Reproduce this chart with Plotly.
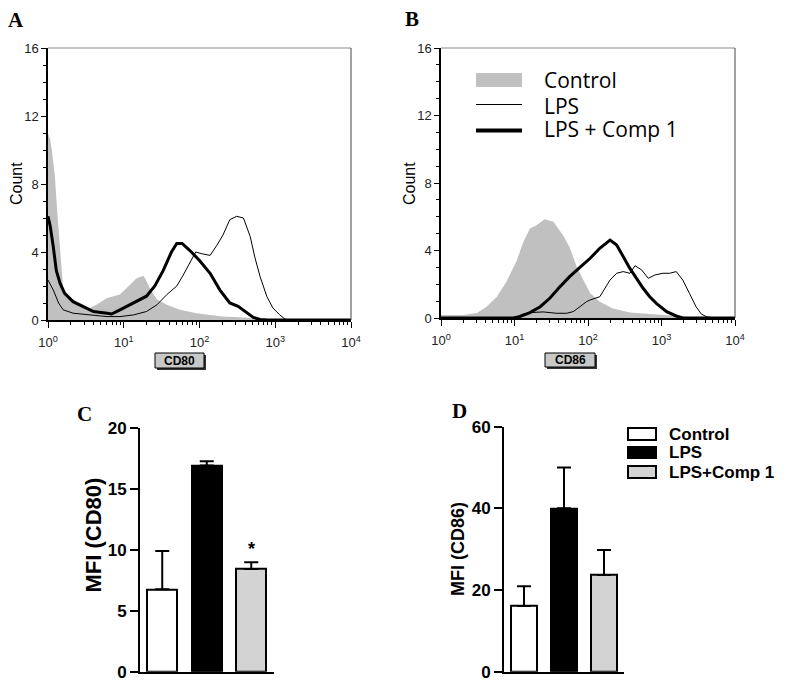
import plotly.graph_objects as go

W, H = 786, 686

# ---------------- DATA ----------------
# Panel A (CD80 histograms): log10 fluorescence positions and counts
a_ctrl_log = [0.0, 0.03, 0.05, 0.09, 0.12, 0.16, 0.2, 0.25, 0.33, 0.47, 0.55, 0.64, 0.78, 0.95, 1.06, 1.17, 1.26, 1.3, 1.35, 1.44, 1.57, 1.74, 1.96, 2.17, 2.3, 2.6, 2.75, 2.85, 4.0]
a_ctrl_cnt = [11.0, 10.6, 10.0, 8.5, 6.5, 3.9, 1.8, 1.3, 1.2, 0.9, 0.7, 0.9, 1.3, 1.5, 2.0, 2.45, 2.6, 2.3, 1.8, 1.2, 0.9, 0.6, 0.4, 0.25, 0.2, 0.15, 0.05, 0.0, 0.0]

a_lps_log = [0.0, 0.07, 0.14, 0.2, 0.33, 0.55, 0.78, 0.95, 1.13, 1.3, 1.44, 1.57, 1.7, 1.78, 1.87, 1.95, 2.03, 2.14, 2.23, 2.31, 2.4, 2.49, 2.58, 2.67, 2.73, 2.8, 2.89, 2.97, 3.06, 3.13, 3.2, 4.0]
a_lps_cnt = [2.35, 1.76, 1.0, 0.6, 0.4, 0.3, 0.2, 0.2, 0.3, 0.5, 0.9, 1.5, 2.0, 2.6, 3.3, 4.0, 3.9, 3.8, 4.4, 5.0, 5.9, 6.1, 6.0, 4.9, 3.7, 2.55, 1.37, 0.7, 0.3, 0.05, 0.0, 0.0]

a_comp_log = [0.0, 0.03, 0.07, 0.11, 0.16, 0.22, 0.33, 0.47, 0.6, 0.78, 0.84, 0.95, 1.13, 1.3, 1.41, 1.52, 1.63, 1.7, 1.77, 1.87, 2.0, 2.14, 2.27, 2.4, 2.51, 2.6, 2.71, 2.8, 2.9, 4.0]
a_comp_cnt = [6.1, 5.5, 4.3, 2.9, 2.15, 1.57, 1.08, 0.8, 0.5, 0.4, 0.35, 0.6, 1.0, 1.4, 2.0, 2.9, 4.0, 4.5, 4.5, 4.1, 3.5, 2.75, 1.76, 1.0, 0.8, 0.5, 0.15, 0.03, 0.0, 0.0]

# Panel B (CD86 histograms)
b_ctrl_log = [0.0, 0.3, 0.49, 0.62, 0.76, 0.89, 1.03, 1.12, 1.21, 1.3, 1.41, 1.53, 1.66, 1.75, 1.85, 1.94, 2.03, 2.16, 2.34, 2.57, 2.8, 3.02, 3.25, 3.48, 3.7, 4.0]
b_ctrl_cnt = [0.18, 0.18, 0.3, 0.67, 1.26, 2.15, 3.4, 4.5, 5.3, 5.5, 5.85, 5.7, 4.9, 4.2, 3.0, 2.25, 1.46, 0.97, 0.57, 0.32, 0.24, 0.16, 0.08, 0.03, 0.0, 0.0]

b_lps_log = [0.0, 1.0, 1.12, 1.21, 1.39, 1.57, 1.71, 1.8, 1.89, 1.98, 2.03, 2.16, 2.3, 2.39, 2.48, 2.57, 2.64, 2.73, 2.82, 2.91, 3.02, 3.11, 3.2, 3.29, 3.38, 3.47, 3.54, 3.61, 3.7, 4.0]
b_lps_cnt = [0.0, 0.0, 0.24, 0.32, 0.36, 0.28, 0.28, 0.38, 0.67, 0.97, 1.07, 1.26, 2.25, 2.65, 2.75, 2.65, 3.1, 2.85, 2.35, 2.55, 2.65, 2.65, 2.75, 2.25, 1.46, 0.67, 0.24, 0.08, 0.0, 0.0]

b_comp_log = [0.0, 0.98, 1.07, 1.21, 1.35, 1.48, 1.62, 1.75, 1.89, 2.03, 2.16, 2.3, 2.39, 2.48, 2.57, 2.66, 2.75, 2.84, 2.93, 3.07, 3.2, 3.29, 4.0]
b_comp_cnt = [0.0, 0.0, 0.08, 0.32, 0.67, 1.17, 1.86, 2.45, 3.0, 3.54, 4.13, 4.62, 4.33, 3.64, 2.94, 2.35, 1.76, 1.26, 0.87, 0.38, 0.12, 0.0, 0.0]

hist_xticks = [1, 10, 100, 1000, 10000]
hist_xticktext = ["10<sup>0</sup>", "10<sup>1</sup>", "10<sup>2</sup>", "10<sup>3</sup>", "10<sup>4</sup>"]
hist_yticks = [0, 4, 8, 12, 16]

# Panels C / D (MFI bar charts)
groups = ["Control", "LPS", "LPS+Comp 1"]
cd80_mfi = [6.75, 16.9, 8.42]
cd80_err = [3.15, 0.35, 0.55]
cd86_mfi = [16.1, 40.0, 23.7]
cd86_err = [4.8, 10.0, 6.1]
bar_colors = ["#ffffff", "#000000", "#d3d3d3"]

# ---------------- HELPERS ----------------
def fx(p):
    return p / W

def fy(p):
    return 1 - p / H

fig = go.Figure()

GRAY = "#c0c0c0"

def add_hist(ctrl_l, ctrl_c, lps_l, lps_c, comp_l, comp_c, xa, ya):
    fig.add_trace(go.Scatter(x=[10 ** v for v in ctrl_l], y=ctrl_c, mode="lines",
                             fill="tozeroy", fillcolor=GRAY, line=dict(width=0, color=GRAY),
                             xaxis=xa, yaxis=ya, showlegend=False, hoverinfo="skip"))
    fig.add_trace(go.Scatter(x=[10 ** v for v in lps_l], y=lps_c, mode="lines",
                             line=dict(width=1, color="black"),
                             xaxis=xa, yaxis=ya, showlegend=False, hoverinfo="skip"))
    fig.add_trace(go.Scatter(x=[10 ** v for v in comp_l], y=comp_c, mode="lines",
                             line=dict(width=3, color="black"),
                             xaxis=xa, yaxis=ya, showlegend=False, hoverinfo="skip"))

add_hist(a_ctrl_log, a_ctrl_cnt, a_lps_log, a_lps_cnt, a_comp_log, a_comp_cnt, "x", "y")
add_hist(b_ctrl_log, b_ctrl_cnt, b_lps_log, b_lps_cnt, b_comp_log, b_comp_cnt, "x2", "y2")

def add_bars(vals, errs, xa, ya, width):
    fig.add_trace(go.Bar(x=[0, 1, 2], y=vals, width=width,
                         marker=dict(color=bar_colors, line=dict(color="black", width=2)),
                         error_y=dict(type="data", symmetric=False, array=errs,
                                      arrayminus=[0, 0, 0], color="black",
                                      thickness=2, width=7),
                         xaxis=xa, yaxis=ya, showlegend=False, hoverinfo="skip"))

add_bars(cd80_mfi, cd80_err, "x3", "y3", 0.68)
add_bars(cd86_mfi, cd86_err, "x4", "y4", 0.66)

tick_font = dict(family="Liberation Sans, Arial", size=13, color="#222")
minor_x = [m * d for d in [1, 10, 100, 1000] for m in range(2, 10)]

def hist_axes(x0, x1, y0, y1):
    xa = dict(domain=[fx(x0), fx(x1)], type="log", range=[0, 4], tickvals=hist_xticks,
              ticktext=hist_xticktext, ticks="outside", ticklen=6, tickwidth=1, tickcolor="black",
              showline=True, linecolor="black", linewidth=1.5, showgrid=False, zeroline=False,
              tickfont=tick_font, automargin=False, ticklabelstandoff=4,
              minor=dict(tickvals=minor_x, ticks="outside", ticklen=3, tickwidth=1,
                         tickcolor="black", showgrid=False))
    ya = dict(domain=[fy(y1), fy(y0)], range=[0, 16], tickvals=hist_yticks, ticks="outside",
              ticklen=5, tickwidth=1, tickcolor="black", showline=True, linecolor="black",
              linewidth=1.5, showgrid=False, zeroline=False, tickfont=tick_font, automargin=False,
              minor=dict(dtick=1, ticks="outside", ticklen=3, tickwidth=1, tickcolor="black",
                         showgrid=False))
    return xa, ya

xa1, ya1 = hist_axes(48, 351, 48, 320)
xa2, ya2 = hist_axes(441, 735, 48, 318)
xa1["anchor"] = "y"; ya1["anchor"] = "x"
xa2["anchor"] = "y2"; ya2["anchor"] = "x2"

bar_tick_font = dict(family="Liberation Sans, Arial", size=17, color="black", weight="bold")

def bar_axes(x0, x1, y0, y1, ymax, dt, anchor_x, anchor_y):
    xa = dict(domain=[fx(x0), fx(x1)], range=[-0.5, 2.5], showticklabels=False, ticks="",
              showline=True, linecolor="black", linewidth=2, showgrid=False, zeroline=False,
              anchor=anchor_y, automargin=False)
    ya = dict(domain=[fy(y1), fy(y0)], range=[0, ymax], dtick=dt, ticks="outside", ticklen=8,
              tickwidth=2, tickcolor="black", showline=True, linecolor="black", linewidth=2,
              showgrid=False, zeroline=False, tickfont=bar_tick_font, anchor=anchor_x,
              automargin=False)
    return xa, ya

xa3, ya3 = bar_axes(140, 273.5, 427.7, 671.7, 20, 5, "x3", "y3")
xa4, ya4 = bar_axes(504, 624, 426.7, 671.7, 60, 20, "x4", "y4")

shapes = []
annotations = []

# gray top/right frame of the histogram panels
for xr, yr in [("x domain", "y domain"), ("x2 domain", "y2 domain")]:
    shapes.append(dict(type="line", xref=xr, yref=yr, x0=0, x1=1, y0=1, y1=1,
                       line=dict(color="#888", width=1)))
    shapes.append(dict(type="line", xref=xr, yref=yr, x0=1, x1=1, y0=0, y1=1,
                       line=dict(color="#444", width=1)))

# CD80 / CD86 label boxes
for (bx0, by0, bx1, by1, lab) in [(155, 353, 204, 368, "CD80"), (545, 353, 595, 367, "CD86")]:
    shapes.append(dict(type="rect", xref="paper", yref="paper", x0=fx(bx0 + 2), x1=fx(bx1 + 2),
                       y0=fy(by1 + 2), y1=fy(by0 + 2), fillcolor="#333", line=dict(width=0)))
    shapes.append(dict(type="rect", xref="paper", yref="paper", x0=fx(bx0), x1=fx(bx1),
                       y0=fy(by1), y1=fy(by0), fillcolor="#c8c8c8",
                       line=dict(color="black", width=1)))
    annotations.append(dict(x=fx((bx0 + bx1) / 2), y=fy((by0 + by1) / 2), xref="paper", yref="paper",
                            text="<b>%s</b>" % lab, showarrow=False, xanchor="center", yanchor="middle",
                            font=dict(family="Liberation Sans, Arial", size=12, color="black")))

# "Count" titles
for cx in [17, 410]:
    annotations.append(dict(x=fx(cx), y=fy(184), xref="paper", yref="paper", text="Count",
                            textangle=-90, showarrow=False, xanchor="center", yanchor="middle",
                            font=dict(family="Liberation Sans, Arial", size=16, color="black")))

# Legend inside panel B
shapes.append(dict(type="rect", xref="paper", yref="paper", x0=fx(476), x1=fx(522),
                   y0=fy(87), y1=fy(73), fillcolor=GRAY, line=dict(width=0)))
shapes.append(dict(type="line", xref="paper", yref="paper", x0=fx(476), x1=fx(522),
                   y0=fy(104.5), y1=fy(104.5), line=dict(color="black", width=1)))
shapes.append(dict(type="line", xref="paper", yref="paper", x0=fx(476), x1=fx(522),
                   y0=fy(130.5), y1=fy(130.5), line=dict(color="black", width=4)))
leg_font = dict(family="Open Sans", size=21, color="black")
for txt, ty in [("Control", 80), ("LPS", 106), ("LPS + Comp 1", 129)]:
    annotations.append(dict(x=fx(542), y=fy(ty), xref="paper", yref="paper", text=txt,
                            showarrow=False, xanchor="left", yanchor="middle", font=leg_font))

# Legend of panel D
leg2_font = dict(family="Liberation Sans, Arial", size=17, color="black", weight="bold")
for (t0, t1, col, txt) in [(428, 440, bar_colors[0], groups[0]), (447, 458, bar_colors[1], groups[1]),
                           (466, 478, bar_colors[2], groups[2])]:
    shapes.append(dict(type="rect", xref="paper", yref="paper", x0=fx(628), x1=fx(656),
                       y0=fy(t1), y1=fy(t0), fillcolor=col, line=dict(color="black", width=2)))
    annotations.append(dict(x=fx(667), y=fy((t0 + t1) / 2), xref="paper", yref="paper",
                            text="<b>%s</b>" % txt, showarrow=False, xanchor="left",
                            yanchor="middle", font=leg2_font))

# MFI titles
annotations.append(dict(x=fx(92.5), y=fy(535), xref="paper", yref="paper", text="<b>MFI (CD80)</b>",
                        textangle=-90, showarrow=False, xanchor="center", yanchor="middle",
                        font=dict(family="Liberation Sans, Arial", size=22, color="black")))
annotations.append(dict(x=fx(458), y=fy(549), xref="paper", yref="paper", text="<b>MFI (CD86)</b>",
                        textangle=-90, showarrow=False, xanchor="center", yanchor="middle",
                        font=dict(family="Liberation Sans, Arial", size=18, color="black")))

# significance star
annotations.append(dict(x=2, y=cd80_mfi[2] + cd80_err[2], xref="x3", yref="y3", text="<b>*</b>",
                        showarrow=False, xanchor="center", yanchor="bottom", yshift=1,
                        font=dict(family="Liberation Sans, Arial", size=18, color="black")))

# panel letters
for lt, lx, ly in [("A", 16, 20), ("B", 412, 19), ("C", 84, 414), ("D", 459, 411)]:
    annotations.append(dict(x=fx(lx), y=fy(ly), xref="paper", yref="paper", text="<b>%s</b>" % lt,
                            showarrow=False, xanchor="center", yanchor="middle",
                            font=dict(family="Liberation Serif, Times New Roman", size=21, color="black")))

fig.update_layout(
    width=W, height=H, margin=dict(l=0, r=0, t=0, b=0, autoexpand=False),
    paper_bgcolor="white", plot_bgcolor="white", showlegend=False,
    xaxis=xa1, yaxis=ya1, xaxis2=xa2, yaxis2=ya2,
    xaxis3=xa3, yaxis3=ya3, xaxis4=xa4, yaxis4=ya4,
    shapes=shapes, annotations=annotations, bargap=0,
)

fig.write_html("out.html", config={"displayModeBar": False},
               post_script="document.body.style.margin='0';document.body.style.padding='0';")
